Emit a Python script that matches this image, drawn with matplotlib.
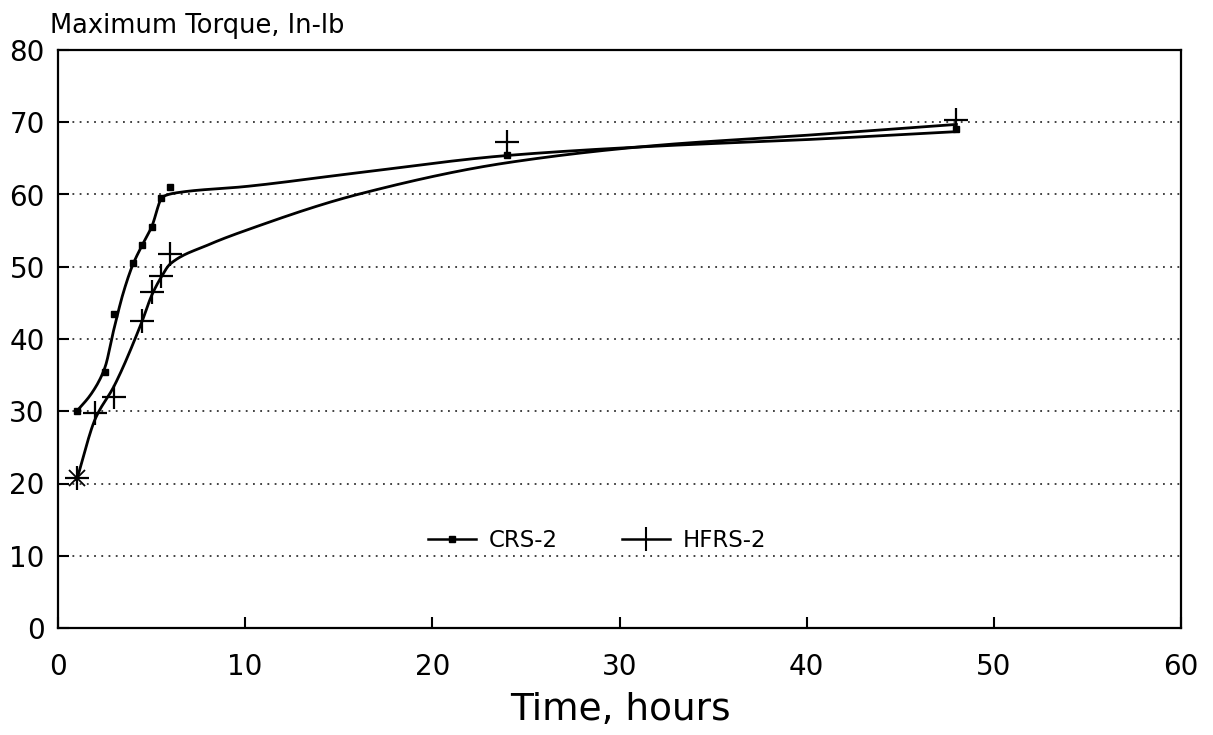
import numpy as np
import matplotlib
matplotlib.use("Agg")
import matplotlib.pyplot as plt

# measured points
crs_t = [1, 2.5, 3, 4, 4.5, 5, 5.5, 6, 24, 48]
crs_y = [30, 35.5, 43.5, 50.5, 53, 55.5, 59.5, 61, 65.5, 69]
hfrs_t = [1, 2, 3, 4.5, 5, 5.5, 6, 24, 48]
hfrs_y = [20.8, 29.8, 32, 42.5, 46.5, 48.7, 51.8, 67.3, 70.3]

# fitted curves
crs_fit_t = [1, 1.8, 2.5, 3, 3.5, 4, 4.5, 5, 5.6, 6.5, 10, 16, 24, 32, 40, 48]
crs_fit_y = [30, 32.5, 36, 41.5, 46.5, 50.3, 53, 55.5, 59.7, 60.3, 61.1, 63, 65.4, 66.7, 67.6, 68.7]
hfrs_fit_t = [1, 2, 3, 4.5, 5, 5.5, 6, 8, 10, 16, 24, 32, 40, 48]
hfrs_fit_y = [20.5, 29, 33.5, 42.5, 46, 48.5, 50.4, 53, 55, 60, 64.4, 66.8, 68.2, 69.7]

series_labels = ["CRS-2", "HFRS-2"]
x_ticks = [0, 10, 20, 30, 40, 50, 60]
y_ticks = [0, 10, 20, 30, 40, 50, 60, 70, 80]


def pchip(x, y, xs):
    x = np.asarray(x, float)
    y = np.asarray(y, float)
    h = np.diff(x)
    d = np.diff(y) / h
    m = np.zeros_like(y)
    for k in range(1, len(x) - 1):
        if d[k - 1] * d[k] > 0:
            w1 = 2 * h[k] + h[k - 1]
            w2 = h[k] + 2 * h[k - 1]
            m[k] = (w1 + w2) / (w1 / d[k - 1] + w2 / d[k])
    m[0] = d[0]
    m[-1] = d[-1]
    idx = np.clip(np.searchsorted(x, xs) - 1, 0, len(x) - 2)
    t = (xs - x[idx]) / h[idx]
    h00 = 2 * t**3 - 3 * t**2 + 1
    h10 = t**3 - 2 * t**2 + t
    h01 = -2 * t**3 + 3 * t**2
    h11 = t**3 - t**2
    return h00 * y[idx] + h10 * h[idx] * m[idx] + h01 * y[idx + 1] + h11 * h[idx] * m[idx + 1]


plt.rcParams['font.family'] = ['DejaVu Sans']

fig = plt.figure(figsize=(12.13, 7.35), dpi=100)
ax = fig.add_axes([58 / 1213, 1 - 628 / 735, 1123 / 1213, 578 / 735])

xs = np.linspace(crs_fit_t[0], crs_fit_t[-1], 600)
ax.plot(xs, pchip(crs_fit_t, crs_fit_y, xs), color='black', lw=2)
xs = np.linspace(hfrs_fit_t[0], hfrs_fit_t[-1], 600)
ax.plot(xs, pchip(hfrs_fit_t, hfrs_fit_y, xs), color='black', lw=2)

ax.plot(crs_t, crs_y, linestyle='none', marker='s', ms=5, color='black')
ax.plot(hfrs_t, hfrs_y, linestyle='none', marker='+', ms=17, mew=1.6, color='black')
ax.plot(hfrs_t[:1], hfrs_y[:1], linestyle='none', marker='x', ms=11, mew=1.3, color='black')

# legend handles
h1, = ax.plot([], [], color='black', lw=1.8, marker='s', ms=5)
h2, = ax.plot([], [], color='black', lw=1.8, marker='|', ms=17, mew=1.5)
ax.legend([h1, h2], series_labels, loc='center', bbox_to_anchor=(0.48, 0.152),
          ncol=2, frameon=False, fontsize=16.5, handlelength=2.1,
          handletextpad=0.55, columnspacing=2.8, markerscale=1)

ax.set_xlim(0, 60)
ax.set_ylim(0, 80)
ax.set_xticks(x_ticks)
ax.set_yticks(y_ticks)
ax.tick_params(axis='x', direction='in', length=8, width=1.5, pad=18, labelsize=20)
ax.tick_params(axis='y', direction='in', length=8, width=1.5, pad=9.5, labelsize=20)
for s in ax.spines.values():
    s.set_linewidth(1.6)
ax.yaxis.grid(True, color='#333333', linestyle=(0, (1, 3)), lw=1.3)

fig.text(50 / 1213, 1 - 33 / 735, "Maximum Torque, In-lb", fontsize=18.5, va='baseline')
fig.text(620 / 1213, 1 - 720 / 735, "Time, hours", fontsize=27, ha='center', va='baseline')

fig.savefig("out.png", dpi=100)
